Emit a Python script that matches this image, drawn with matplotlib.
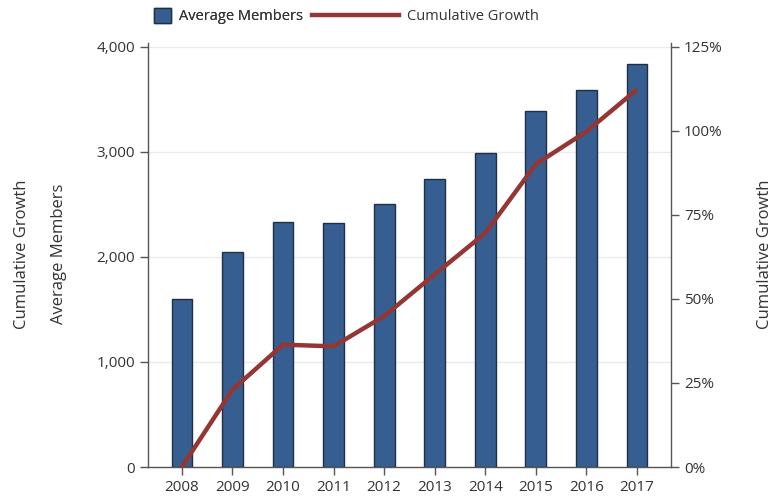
import numpy as np
import matplotlib.pyplot as plt
from matplotlib.patches import Patch
from matplotlib.lines import Line2D

plt.rcParams['font.family'] = ['Open Sans', 'DejaVu Sans']

years = ['2008', '2009', '2010', '2011', '2012', '2013', '2014', '2015', '2016', '2017']
avg_members = [1600, 2050, 2330, 2320, 2500, 2740, 2985, 3390, 3585, 3840]
cum_growth = [0, 23, 36.4, 35.9, 44.9, 57.3, 69.6, 90.1, 99.8, 112.3]
left_ticks = [0, 1000, 2000, 3000, 4000]
right_ticks = [0, 25, 50, 75, 100, 125]

bar_color = '#365e91'
line_color = '#943634'
text_color = '#333333'
fs = 11

fig = plt.figure(figsize=(7.81, 5.04), dpi=100)
ax = fig.add_axes([0.1895, 0.0734, 0.6695, 0.842])
x = np.arange(len(years))

ax.bar(x, avg_members, width=0.41, color=bar_color, edgecolor='#1f2f45', linewidth=1.0, zorder=2)
ax.set_xlim(-0.67, len(years) - 1 + 0.67)
ax.set_ylim(0, 4040)
ax.set_yticks(left_ticks)
ax.set_yticklabels(['{:,}'.format(v) for v in left_ticks])
ax.set_xticks(x)
ax.set_xticklabels(years)
ax.grid(axis='y', color='#ebebeb', linewidth=1.0, zorder=0)
ax.set_axisbelow(True)

ax2 = ax.twinx()
ax2.plot(x, cum_growth, color=line_color, linewidth=3.2, solid_capstyle='butt', zorder=3)
ax2.set_ylim(0, 126.25)
ax2.set_yticks(right_ticks)
ax2.set_yticklabels(['{}%'.format(v) for v in right_ticks])

for a in (ax, ax2):
    a.spines['top'].set_visible(False)
    for s in ('left', 'right', 'bottom'):
        a.spines[s].set_color('#555555')
        a.spines[s].set_linewidth(1.0)
    a.tick_params(colors='#555555', labelcolor=text_color, labelsize=fs, length=6, width=1.0)
ax.spines['right'].set_visible(False)
ax2.spines['left'].set_visible(False)
ax2.spines['bottom'].set_visible(False)

fig.text(0.028, 0.496, 'Cumulative Growth', rotation=90, ha='center', va='center',
         fontsize=12, color=text_color)
fig.text(0.0755, 0.496, 'Average Members', rotation=90, ha='center', va='center',
         fontsize=12, color=text_color)
fig.text(0.9795, 0.496, 'Cumulative Growth', rotation=90, ha='center', va='center',
         fontsize=12, color=text_color)

# legend: two parts so the square and the line can have different lengths
leg1 = fig.legend([Patch(facecolor=bar_color, edgecolor='#1f2f45', linewidth=1.0)],
                  ['Average Members'], loc='center left', bbox_to_anchor=(0.197, 0.968),
                  frameon=False, fontsize=10.5, borderpad=0, borderaxespad=0,
                  handlelength=1.15, handleheight=1.15, handletextpad=0.55,
                  labelcolor=text_color)
fig.add_artist(leg1)
fig.legend([Line2D([0], [0], color=line_color, linewidth=3.2)],
           ['Cumulative Growth'], loc='center left', bbox_to_anchor=(0.399, 0.968),
           frameon=False, fontsize=10.5, borderpad=0, borderaxespad=0,
           handlelength=6.0, handletextpad=0.55, labelcolor=text_color)

fig.savefig('out.png', dpi=100)
